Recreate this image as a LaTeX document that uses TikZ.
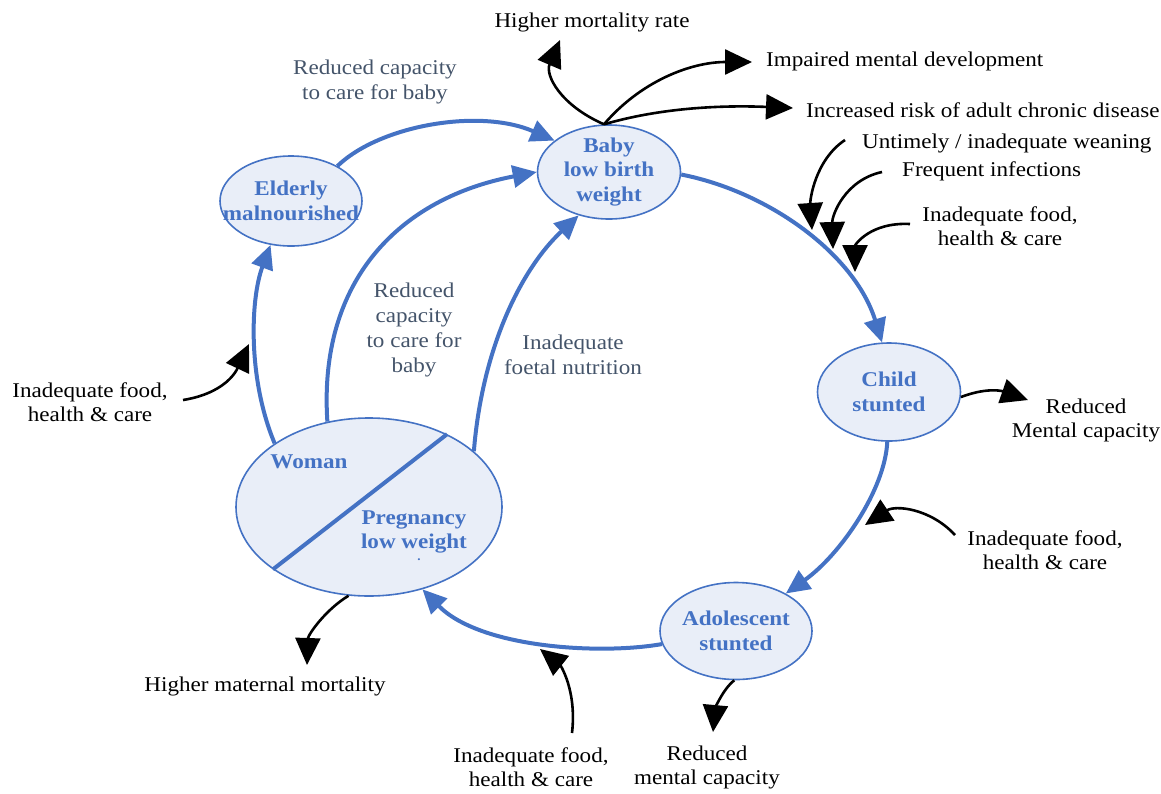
\documentclass[tikz,border=0pt]{standalone}
\usepackage{fontspec}
\setmainfont[FakeStretch=1.1]{Liberation Serif}
\usetikzlibrary{shapes.geometric,arrows.meta}
\definecolor{cblue}{HTML}{4472C4}
\definecolor{cfill}{HTML}{E9EEF8}
\definecolor{cgrey}{HTML}{44546A}
\begin{document}
\begin{tikzpicture}[x=1pt,y=-1pt,
 stage/.style={ellipse,draw=cblue,line width=1.6pt,fill=cfill,inner sep=0pt},
 stagetxt/.style={text=cblue,font=\fontsize{21}{24.5}\selectfont\bfseries,align=center,inner sep=0pt},
 cyc/.style={draw=cblue,line width=4pt,-{Triangle[length=24pt,width=22pt]}},
 eff/.style={draw=black,line width=2.6pt,-{Triangle[length=27pt,width=25pt]}},
 lbl/.style={font=\fontsize{21}{24}\selectfont,align=center,inner sep=0pt},
 glbl/.style={lbl,text=cgrey,font=\fontsize{21}{25}\selectfont}]
\useasboundingbox (0,0) rectangle (1161,793);

% stages
\node[stage,minimum width=143pt,minimum height=94pt] (baby) at (609,172) {};
\node[stage,minimum width=142pt,minimum height=90pt] (elder) at (291,201) {};
\node[stage,minimum width=143pt,minimum height=98pt] (child) at (889,392) {};
\node[stage,minimum width=152pt,minimum height=97pt] (adol) at (736,631) {};
\node[stage,minimum width=266pt,minimum height=178pt] (woman) at (369,507) {};
\node[stagetxt] (babytxt) at (baby) {Baby\\low birth\\weight};
\node[stagetxt] (eldertxt) at (elder) {Elderly\\malnourished};
\node[stagetxt] (childtxt) at (child) {Child\\stunted};
\node[stagetxt] (adoltxt) at (adol) {Adolescent\\stunted};
\draw[cblue,line width=4pt] (woman.213) -- (woman.43);
\node[stagetxt] (wtxt) at (309,462) {Woman};
\node[stagetxt] (ptxt) at (414,532) {Pregnancy\\low weight};
\node[text=cblue,font=\fontsize{12}{12}\selectfont\bfseries,inner sep=0pt] (pdot) at (419,560) {.};

% cycle arrows
\draw[cyc] (elder.37) .. controls (380,125) and (480,108) .. (baby.150);
\draw[cyc] (woman.116) .. controls (318,280) and (400,198) .. (baby.180);
\draw[cyc] (woman.28) .. controls (482,350) and (520,270) .. (baby.235);
\draw[cyc] (woman.146) .. controls (248,380) and (250,300) .. (elder.245);
\draw[cyc] (baby.358) .. controls (770,192) and (855,255) .. (child.98);
\draw[cyc] (child.268) .. controls (885,490) and (840,555) .. (adol.37);
\draw[cyc] (adol.190) .. controls (600,655) and (480,648) .. (woman.303);

% cycle labels
\node[glbl] (l1) at (375,82) {Reduced capacity\\to care for baby};
\node[glbl] (l2) at (414,330) {Reduced\\capacity\\to care for\\baby};
\node[glbl] (l3) at (573,355) {Inadequate\\foetal nutrition};

% outcome / cause texts
\node[lbl] (t1) at (592,22) {Higher mortality rate};
\node[lbl,anchor=west] (t2) at (766,61) {Impaired mental development};
\node[lbl,anchor=west] (t3) at (806,110) {Increased risk of adult chronic disease};
\node[lbl,anchor=west] (t4) at (862,143) {Untimely / inadequate weaning};
\node[lbl,anchor=west] (t5) at (902,171) {Frequent infections};
\node[lbl] (t6) at (1000,226) {Inadequate food,\\health \& care};
\node[lbl] (t7) at (1086,420) {Reduced\\Mental capacity};
\node[lbl] (t8) at (1045,550) {Inadequate food,\\health \& care};
\node[lbl] (t9) at (707,767) {Reduced\\mental capacity};
\node[lbl] (t10) at (531,767) {Inadequate food,\\health \& care};
\node[lbl] (t11) at (265,686) {Higher maternal mortality};
\node[lbl] (t12) at (90,402) {Inadequate food,\\health \& care};

% arrow end coordinates
\coordinate (e1) at (560,40);
\coordinate (e2) at (752,62);
\coordinate (e3) at (793,108);
\coordinate (s4) at (845,140);  \coordinate (e4) at (812,230);
\coordinate (s5) at (882,172);  \coordinate (e5) at (833,249);
\coordinate (s6) at (910,224);  \coordinate (e6) at (855,272);
\coordinate (e7) at (1028,400);
\coordinate (s8) at (955,535);  \coordinate (e8) at (865,525);
\coordinate (e9) at (713,732);
\coordinate (s10) at (572,733); \coordinate (e10) at (540,649);
\coordinate (e11) at (307,665);
\coordinate (s12) at (183,400); \coordinate (e12) at (249,344);

% black arrows
\draw[eff] (baby.96) .. controls (560,105) and (545,75) .. (e1);
\draw[eff] (baby.96) .. controls (640,82) and (690,62) .. (e2);
\draw[eff] (baby.96) .. controls (660,108) and (720,105) .. (e3);
\draw[eff] (s4) .. controls (815,160) and (810,200) .. (e4);
\draw[eff] (s5) .. controls (845,180) and (832,215) .. (e5);
\draw[eff] (s6) .. controls (870,222) and (855,245) .. (e6);
\draw[eff] (child.356) .. controls (990,386) and (1005,392) .. (e7);
\draw[eff] (s8) .. controls (930,508) and (895,505) .. (e8);
\draw[eff] (adol.268) .. controls (722,690) and (715,710) .. (e9);
\draw[eff] (s10) .. controls (577,690) and (560,665) .. (e10);
\draw[eff] (woman.257) .. controls (325,610) and (308,635) .. (e11);
\draw[eff] (s12) .. controls (215,395) and (232,380) .. (e12);
\end{tikzpicture}
\end{document}
